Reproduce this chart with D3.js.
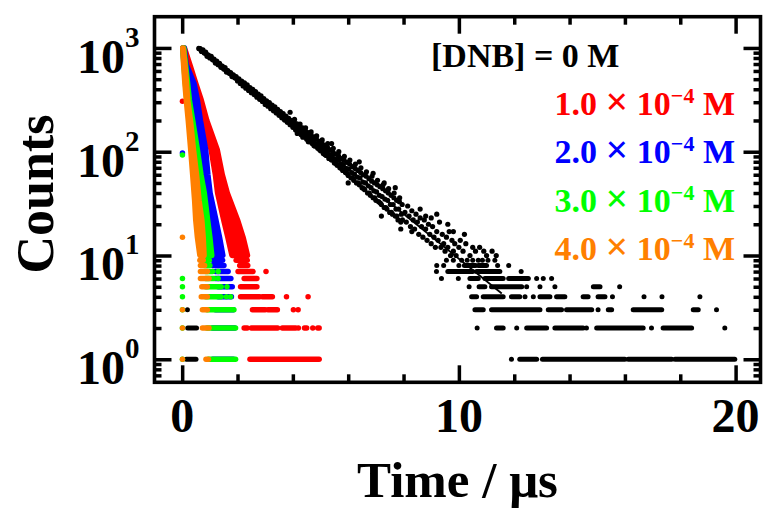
<!DOCTYPE html>
<html>
<head>
<meta charset="utf-8">
<script src="https://cdn.jsdelivr.net/npm/d3@7"></script>
<style>
body { margin: 0; background: #fff; }
svg { display: block; }
text { font-family: "Liberation Serif", "Times New Roman", serif; font-weight: bold; }
</style>
</head>
<body>
<div id="chart"></div>
<script>
// ---- data ----
// axis ticks
var xMajor = [0, 10, 20]
var xMinor = [2, 4, 6, 8, 12, 14, 16, 18]
var yMajor = [1, 10, 100, 1000]
var yMinor = [0.7, 0.8, 0.9, 2, 3, 4, 5, 6, 7, 8, 9, 20, 30, 40, 50, 60, 70, 80, 90,
              200, 300, 400, 500, 600, 700, 800, 900]

// [DNB] = 0 M : decay points [time, counts]
var blackDecay = [
  [0.60,990],[0.65,985],[0.70,925],[0.75,960],[0.80,895],[0.85,910],[0.90,830],[0.95,855],
  [1.00,800],[1.05,830],[1.10,770],[1.15,780],[1.20,715],[1.25,745],[1.30,690],[1.35,710],
  [1.40,650],[1.45,670],[1.50,625],[1.55,645],[1.60,585],[1.65,605],[1.70,570],[1.75,580],
  [1.80,530],[1.85,550],[1.90,515],[1.95,530],[2.00,480],[2.05,505],[2.10,455],[2.15,480],
  [2.20,430],[2.25,460],[2.30,410],[2.35,440],[2.40,390],[2.45,415],[2.50,370],[2.55,400],
  [2.60,355],[2.65,380],[2.70,335],[2.75,360],[2.80,320],[2.85,345],[2.90,305],[2.95,325],
  [3.00,285],[3.05,310],[3.10,275],[3.15,298],[3.20,260],[3.25,282],[3.30,248],[3.35,270],
  [3.40,236],[3.45,256],[3.50,224],[3.55,244],[3.60,212],[3.65,233],[3.70,202],[3.75,221],
  [3.80,192],[3.85,210],[3.90,182],[3.95,200],[4.00,172],[4.05,194],[4.10,162],[4.15,186],
  [4.20,155],[4.25,176],[4.30,146],[4.35,170],[4.40,140],[4.45,160],[4.50,132],[4.55,153],
  [4.60,125],[4.65,146],[4.70,120],[4.75,139],[4.80,113],[4.85,132],[4.90,108],[4.95,126],
  [5.00,102],[5.05,121],[5.10,96],[5.15,115],[5.20,92],[5.25,110],[5.30,86],[5.35,104],
  [5.40,83],[5.45,99],[5.50,78],[5.55,95],[5.60,74],[5.65,91],[5.70,70],[5.75,86],
  [5.80,66],[5.85,83],[5.90,63],[5.95,79],[6.00,59],[6.05,76],[6.10,56],[6.15,72],
  [6.20,53],[6.25,69],[6.30,50],[6.35,66],[6.40,48],[6.45,63],[6.50,45],[6.55,60],
  [6.60,43],[6.65,58],[6.70,40],[6.75,55],[6.80,38],[6.85,52],[6.90,36],[6.95,50],
  [7.00,34],[7.05,48],[7.10,33],[7.15,46],[7.20,31],[7.25,44],[7.30,29],[7.35,42],
  [7.40,28],[7.45,40],[7.50,26],[7.55,38],[7.60,25],[7.65,36],[7.70,24],[7.75,34],
  [7.80,22],[7.85,33],[7.90,21],[7.95,31],
  [0.625,988],[0.675,955],[0.725,940],[0.775,915],[0.825,893],[0.875,872],[0.925,850],
  [0.975,830],[1.025,810],[1.075,790],[1.125,770],[1.175,752],[1.225,733],[1.275,715],
  [1.325,698],[1.375,680],[1.425,663],[1.475,647],[1.525,631],[1.575,616],[1.625,600],
  [1.675,586],[1.725,572],[1.775,558],[1.825,544],[1.875,530],[1.925,517],[1.975,505],
  [2.025,492],[2.075,480],[2.125,468],[2.175,457],[2.225,446],[2.275,435],[2.325,424],
  [2.375,414],[2.425,404],[2.475,394],[2.525,385],[2.575,375],[2.625,366],[2.675,357],
  [2.725,348],[2.775,340],[2.825,331],[2.875,323],[2.925,315],[2.975,307],[3.025,300],
  [3.075,292],[3.125,285],[3.175,278],[3.225,272],[3.275,265],[3.325,258],[3.375,252],
  [3.425,246],[3.475,240],[3.525,234],[3.575,228],[3.625,223],[3.675,217],[3.725,212],
  [3.775,207],[3.825,201],[3.875,196],[3.925,192],[3.975,187],
  [4.025,182],[4.125,172],[4.225,166],[4.325,155],[4.425,150],[4.525,141],[4.625,135],
  [4.725,130],[4.825,120],[4.925,117],[5.025,112],[5.125,104],[5.225,101],[5.325,94],
  [5.425,91],[5.525,85],[5.625,83],[5.725,77],[5.825,75],[5.925,69],[6.025,68],[6.125,63],
  [6.225,61],[6.325,57],[6.425,56],[6.525,51],[6.625,50],[6.725,47],[6.825,45],[6.925,42],
  [7.025,41],[7.125,38],[7.225,37],[7.325,35],[7.425,34],[7.525,31],[7.625,31],[7.725,28],
  [7.825,28],[7.925,25],
  [4.06,205],[4.16,150],[4.26,185],[4.36,138],[4.46,170],[4.56,125],[4.66,155],[4.76,115],
  [4.86,142],[4.96,105],[5.06,130],[5.16,94],[5.26,120],[5.36,85],[5.46,108],[5.56,77],
  [5.66,100],[5.76,69],[5.86,90],[5.96,62],[6.06,83],[6.16,56],[6.26,76],[6.36,50],
  [6.46,70],[6.56,44],[6.66,64],[6.76,40],[6.86,58],[6.96,36],[7.06,53],[7.16,32],
  [7.26,48],[7.36,29],[7.46,44],[7.56,26],[7.66,40],[7.76,24],[7.86,36],[7.96,22],
  [3.9,240],[5.4,120],[6.0,50],[6.4,80],[6.9,62],[7.3,50],[7.2,24],[7.7,45],[7.9,18]
]
var blackScatter = [
  [8.05,26],[8.1,21],[8.15,30],[8.2,24],[8.25,19],[8.3,27],[8.35,22],[8.4,18],[8.45,25],
  [8.5,21],[8.55,16],[8.6,23],[8.65,19],[8.7,15],[8.75,22],[8.8,18],[8.85,14],[8.9,20],
  [8.95,16],[9.0,13],[9.05,19],[9.1,15],[9.15,12],[9.2,17],[9.25,14],[9.3,21],[9.35,12],
  [9.4,16],[9.45,13],[9.5,11],[9.55,15],[9.6,12],[9.65,17],[9.7,10],[9.75,14],[9.8,11],
  [9.85,13],[9.9,10],[10.0,12],[10.05,14],[10.15,11],[10.25,13],[10.4,10],[10.5,12],
  [10.6,11],[10.75,12],[10.9,11],[11.0,10],[11.2,11],[11.35,10],
  [8.8,24],[9.0,23],[9.8,17],[10.2,16],[8.3,17],[8.6,28],[9.2,25],[9.6,20]
]
// rows of low counts: [counts, tStart, tEnd]
var blackRows = [
  [1,0.15,0.5],[2,0.2,0.52],[3,0.19,0.19],
  [1,11.9,11.9],[1,12.2,12.81],[1,13.02,16.0],[1,16.12,17.69],[1,17.81,19.97],
  [2,10.66,10.66],[2,11.36,11.6],[2,12.09,12.09],[2,12.45,13.17],[2,13.47,14.49],
  [2,14.61,14.61],[2,14.98,16.66],[2,16.96,16.96],[2,17.38,18.41],[2,19.61,19.61],
  [3,10.58,10.88],[3,11.18,12.93],[3,13.23,13.71],[3,13.89,14.8],[3,15.03,15.03],
  [3,15.4,15.52],[3,16.3,17.33],[3,18.47,18.65],[3,19.31,19.31],
  [4,10.46,10.64],[4,10.88,11.6],[4,11.9,12.2],[4,12.39,12.39],[4,12.69,12.69],
  [4,12.93,13.29],[4,13.53,13.83],[4,14.49,14.67],[4,15.03,15.28],[4,15.55,15.55],
  [4,16.69,16.69],[4,17.34,17.34],[4,18.71,18.71],
  [5,10.37,10.37],[5,10.73,10.94],[5,11.18,12.27],[5,12.45,12.45],[5,12.93,12.93],
  [5,13.47,13.47],[5,14.86,15.1],[5,15.81,15.81],
  [6,9.37,9.37],[6,9.98,9.98],[6,10.4,10.7],[6,10.94,11.6],[6,11.8,12.51],[6,12.81,12.81],
  [6,13.05,13.05],[6,13.35,13.35],
  [7,9.19,9.19],[7,9.6,10.5],[7,10.64,11.48],[7,12.25,12.25],
  [8,9.2,9.2],[8,9.45,9.45],[8,10.0,10.0],[8,10.2,10.6],[8,10.7,11.0],[8,11.4,11.4],[8,11.8,11.8],
  [9,9.55,9.55],[9,9.8,9.8],[9,10.1,10.1],[9,10.3,10.3],[9,10.5,10.5],[9,10.7,10.7],
  [9,10.85,10.85],[9,11.05,11.05],[9,11.3,11.3]
]
var blackFit = [[0.6,1000],[11.55,4.3]]

// quenched decays: dense band [counts, tLeft, tRight]
var redBand = [[1000,0.02,0.08],[660,0.15,0.3],[455,0.35,0.49],[314,0.5,0.69],[200,0.7,0.89],
  [104,1.05,1.27],[60,1.2,1.45],[40,1.28,1.63],[22,1.5,2.0],[15,1.65,2.2],[10,1.8,2.36]]
var blueBand = [[1000,0.02,0.08],[700,0.07,0.14],[455,0.15,0.43],[314,0.22,0.55],[200,0.33,0.66],
  [104,0.5,0.85],[60,0.63,0.93],[40,0.75,1.01],[22,0.87,1.22],[15,0.95,1.35],[10,1.02,1.47]]
var greenBand = [[1000,0.02,0.06],[700,0.06,0.12],[450,0.12,0.2],[314,0.17,0.26],[200,0.26,0.38],
  [104,0.38,0.55],[60,0.48,0.68],[40,0.56,0.8],[22,0.66,0.92],[15,0.72,1.0],[10,0.79,1.07]]
var orangeBand = [[1000,0.02,0.04],[700,0.05,0.1],[450,0.1,0.16],[314,0.15,0.2],[200,0.22,0.3],
  [104,0.31,0.41],[60,0.38,0.52],[34,0.45,0.61],[22,0.49,0.71],[15,0.55,0.76],[10,0.64,0.79]]

var redRows = [[307,0.01,0.01],[1,2.45,4.95],
  [2,2.24,2.35],[2,2.5,3.45],[2,3.62,4.1],[2,4.2,4.2],[2,4.42,4.5],[2,4.72,4.72],[2,4.9,4.95],
  [3,2.54,3.0],[3,3.1,3.44],[3,4.02,4.02],[3,4.19,4.19],
  [4,2.11,2.8],[4,2.9,3.26],[4,3.77,3.77],[4,4.55,4.55],
  [5,2.11,2.7],[6,2.24,2.7],[7,2.02,2.56],[7,3.03,3.03],[8,2.08,2.37],[9,1.95,2.35]]
var blueRows = [[97,0.01,0.01],[1,1.1,1.85],[2,1.1,1.9],[3,1.2,1.85],[4,1.3,1.78],[5,1.3,1.81],
  [6,1.2,1.76],[7,1.2,1.66],[8,1.1,1.51],[9,1.1,1.46]]
var greenRows = [[93,0.01,0.01],[1,0.01,0.01],[2,0.01,0.01],[3,0.01,0.01],[4,0.01,0.01],
  [5,0.01,0.01],[6,0.01,0.01],
  [1,0.95,1.93],[2,0.9,1.93],[3,0.9,1.87],[4,0.85,1.41],[4,1.6,1.6],[4,1.75,1.75],
  [5,0.85,1.41],[5,1.62,1.62],[6,0.85,1.15],[6,1.3,1.3],[7,0.85,1.1],[7,1.3,1.3],
  [8,0.8,1.0],[9,0.8,0.98]]
var orangeRows = [[1,0.01,0.01],[2,0.01,0.01],[3,0.01,0.01],[15,0.01,0.01],
  [1,0.86,0.95],[2,0.73,0.97],[3,0.73,0.91],[4,0.69,0.91],[5,0.71,0.91],[6,0.66,0.97],
  [7,0.66,0.91],[8,0.66,0.81],[9,0.64,0.76]]

var mantissas = ["1.0", "2.0", "3.0", "4.0"]
var colors = ["#ff0000", "#0000ff", "#00ff00", "#ff8000"]

// ---- drawing ----
var w = 766, h = 515
var plotL = 154.5, plotR = 760.5, plotT = 16.7, plotB = 382.3

var svg = d3.select("#chart").append("svg")
    .attr("width", w)
    .attr("height", h)

var x = d3.scaleLinear().domain([-1, 20.9]).range([plotL, plotR])
var y = d3.scaleLog().domain([0.6, 2000]).range([plotB, plotT])

function rows(data, color, width) {
    svg.append("g").selectAll("line")
        .data(data)
        .enter()
        .append("line")
        .attr("x1", d => x(d[1]))
        .attr("x2", d => x(d[2]))
        .attr("y1", d => y(d[0]))
        .attr("y2", d => y(d[0]))
        .attr("stroke", color)
        .attr("stroke-width", width)
        .attr("stroke-linecap", "round")
}

function dots(data, color, r) {
    svg.append("g").selectAll("circle")
        .data(data)
        .enter()
        .append("circle")
        .attr("cx", d => x(d[0]))
        .attr("cy", d => y(d[1]))
        .attr("r", r)
        .attr("fill", color)
}

function band(data, color) {
    var area = d3.area()
        .y(d => y(d[0]))
        .x0(d => x(d[1]))
        .x1(d => x(d[2]))
    svg.append("path")
        .datum(data)
        .attr("d", area)
        .attr("fill", color)
        .attr("stroke", color)
        .attr("stroke-width", 5.5)
        .attr("stroke-linejoin", "round")
}

// black, no quencher
dots(blackDecay, "#000", 2.6)
dots(blackScatter, "#000", 2.6)
rows(blackRows, "#000", 5)
svg.append("path")
    .datum(blackFit)
    .attr("d", d3.line().x(d => x(d[0])).y(d => y(d[1])))
    .attr("stroke", "#000")
    .attr("stroke-width", 1.8)
    .attr("fill", "none")

var bands = [redBand, blueBand, greenBand, orangeBand]
var rowSets = [redRows, blueRows, greenRows, orangeRows]
bands.forEach((b, i) => {
    band(b, colors[i])
    rows(rowSets[i], colors[i], 5.5)
})

// frame + ticks
function styleAxis(g) {
    g.select(".domain").remove()
    g.selectAll("line").attr("stroke", "#000").attr("stroke-width", 3.5)
    g.selectAll("text").remove()
}
svg.append("g").attr("transform", `translate(0,${plotB})`)
    .call(d3.axisBottom(x).tickValues(xMajor).tickSize(-17)).call(styleAxis)
svg.append("g").attr("transform", `translate(0,${plotB})`)
    .call(d3.axisBottom(x).tickValues(xMinor).tickSize(-8)).call(styleAxis)
svg.append("g").attr("transform", `translate(0,${plotT})`)
    .call(d3.axisTop(x).tickValues(xMajor).tickSize(-17)).call(styleAxis)
svg.append("g").attr("transform", `translate(0,${plotT})`)
    .call(d3.axisTop(x).tickValues(xMinor).tickSize(-8)).call(styleAxis)
svg.append("g").attr("transform", `translate(${plotL},0)`)
    .call(d3.axisLeft(y).tickValues(yMajor).tickSize(-17)).call(styleAxis)
svg.append("g").attr("transform", `translate(${plotL},0)`)
    .call(d3.axisLeft(y).tickValues(yMinor).tickSize(-7)).call(styleAxis)
svg.append("g").attr("transform", `translate(${plotR},0)`)
    .call(d3.axisRight(y).tickValues(yMajor).tickSize(-17)).call(styleAxis)
svg.append("g").attr("transform", `translate(${plotR},0)`)
    .call(d3.axisRight(y).tickValues(yMinor).tickSize(-7)).call(styleAxis)

svg.append("rect")
    .attr("x", plotL).attr("y", plotT)
    .attr("width", plotR - plotL).attr("height", plotB - plotT)
    .attr("fill", "none").attr("stroke", "#000").attr("stroke-width", 3.6)

// tick labels
svg.selectAll(".xlab")
    .data(xMajor)
    .enter()
    .append("text")
    .attr("x", d => x(d))
    .attr("y", 432)
    .attr("text-anchor", "middle")
    .style("font-size", "48px")
    .text(d => d)

var ylab = svg.selectAll(".ylab")
    .data(yMajor)
    .enter()
    .append("text")
    .attr("x", 139.5)
    .attr("y", d => y(d) + 25)
    .attr("text-anchor", "end")
    .style("font-size", "48px")
ylab.append("tspan").text("10")
ylab.append("tspan")
    .attr("dy", -26)
    .style("font-size", "29px")
    .text(d => Math.round(Math.log10(d)))

// axis titles
svg.append("text")
    .attr("transform", "translate(53,194) rotate(-90)")
    .attr("text-anchor", "middle")
    .style("font-size", "52px")
    .text("Counts")
svg.append("text")
    .attr("x", (plotL + plotR) / 2)
    .attr("y", 497)
    .attr("text-anchor", "middle")
    .style("font-size", "51px")
    .text("Time / \u03bcs")

// legend
svg.append("text")
    .attr("x", 431)
    .attr("y", 67)
    .style("font-size", "34px")
    .attr("fill", "#000")
    .text("[DNB] = 0 M")

mantissas.forEach((m, i) => {
    var t = svg.append("text")
        .attr("x", 735)
        .attr("y", 115 + i * 48.3)
        .attr("text-anchor", "end")
        .attr("fill", colors[i])
        .style("font-size", "34px")
    t.append("tspan").text(m + " ")
    t.append("tspan").style("font-size", "40px").text("\u00d7")
    t.append("tspan").text(" 10")
    t.append("tspan").attr("dy", -12).style("font-size", "22px").text("\u22124")
    t.append("tspan").attr("dy", 12).text(" M")
})
</script>
</body>
</html>
